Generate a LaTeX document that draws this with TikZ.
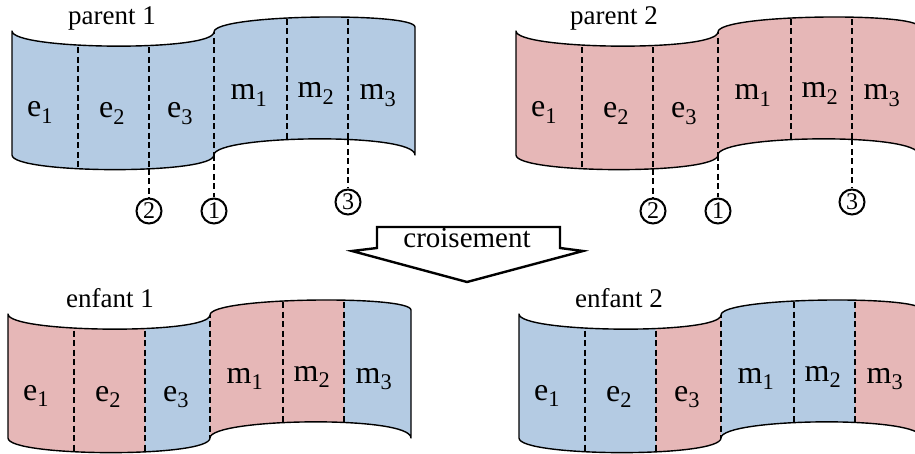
\documentclass[tikz,border=0pt]{standalone}
\usepackage{fontspec}
\setmainfont{Liberation Serif}
\usepackage{tikz}
\definecolor{geneblue}{RGB}{180,203,227}
\definecolor{genepink}{RGB}{230,183,183}
\newcommand{\ribbonshape}{(12,31) .. controls (12,50) and (214,52) .. (214,32) .. controls (214,14) and (415,12) .. (415,27) -- (415,155) .. controls (415,132) and (214,135) .. (214,155) .. controls (214,175) and (12,174) .. (12,155) -- cycle}
\newcommand{\ribbon}[8]{%
    \begin{scope}[shift={#2}]
        \foreach \xa/\xb/\col in {12/78/#3, 78/149/#4, 149/214/#5, 214/287/#6, 287/348/#7, 348/420/#8} {
            \begin{scope}
                \clip (\xa,0) rectangle (\xb,200);
                \fill[\col] \ribbonshape;
            \end{scope}
        }
        \begin{scope}
            \clip \ribbonshape;
            \foreach \x in {78,149,214,287,348} \draw[divider] (\x,0) -- (\x,200);
        \end{scope}
        \draw[edge] \ribbonshape;
        \node[gene] (#1e1) at (40,117) {e\textsubscript{1}};
        \node[gene] (#1e2) at (112,118) {e\textsubscript{2}};
        \node[gene] (#1e3) at (180,118) {e\textsubscript{3}};
        \node[gene] (#1m1) at (249,100) {m\textsubscript{1}};
        \node[gene] (#1m2) at (316,98) {m\textsubscript{2}};
        \node[gene] (#1m3) at (378,100) {m\textsubscript{3}};
    \end{scope}}

\begin{document}
\begin{tikzpicture}[x=1pt, y=-1pt, edge/.style = {line width=1.4pt, line join=round}, divider/.style = {line width=1.1pt, dash pattern=on 6pt off 3.5pt}, gene/.style = {anchor=base, inner sep=0pt, font=\fontsize{32}{36}\selectfont}, title/.style = {anchor=base, inner sep=0pt, font=\fontsize{27}{30}\selectfont}, num/.style = {draw, circle, line width=2pt, inner sep=0pt, minimum size=25pt, fill=white, font=\fontsize{24}{24}\selectfont}, blockarrow/.style = {draw, line width=2.4pt, fill=white, line join=miter}]
    \useasboundingbox (0,0) rectangle (915,454);
    \ribbon{pa}{(0,0)}{geneblue}{geneblue}{geneblue}{geneblue}{geneblue}{geneblue}
    \ribbon{pb}{(504,0)}{genepink}{genepink}{genepink}{genepink}{genepink}{genepink}
    \ribbon{ea}{(-4,283)}{genepink}{genepink}{geneblue}{genepink}{genepink}{geneblue}
    \ribbon{eb}{(507,283)}{geneblue}{geneblue}{genepink}{geneblue}{geneblue}{genepink}
    \node[title] (tpa) at (112,25) {parent 1};
    \node[title] (tpb) at (614,25) {parent 2};
    \node[title] (tea) at (110,307) {enfant 1};
    \node[title] (teb) at (619,307) {enfant 2};
    \coordinate (pas2) at (149,168.8);
    \coordinate (pas1) at (214,155);
    \coordinate (pas3) at (348,139.5);
    \coordinate (pbs2) at (653,168.8);
    \coordinate (pbs1) at (718,155);
    \coordinate (pbs3) at (852,139.5);
    \node[num] (pac2) at (149,211) {2};
    \node[num] (pac1) at (214,211) {1};
    \node[num] (pac3) at (348,202) {3};
    \node[num] (pbc2) at (653,211) {2};
    \node[num] (pbc1) at (718,211) {1};
    \node[num] (pbc3) at (852,202) {3};
    \draw[divider] (pas2) -- (pac2);
    \draw[divider] (pas1) -- (pac1);
    \draw[divider] (pas3) -- (pac3);
    \draw[divider] (pbs2) -- (pbc2);
    \draw[divider] (pbs1) -- (pbc1);
    \draw[divider] (pbs3) -- (pbc3);
    \coordinate (ar1) at (377,227);
    \coordinate (ar2) at (560,227);
    \coordinate (ar3) at (560,248);
    \coordinate (ar4) at (583,251);
    \coordinate (ar5) at (467,282);
    \coordinate (ar6) at (352,251);
    \coordinate (ar7) at (377,248);
    \draw[blockarrow] (ar1) -- (ar2) -- (ar3) -- (ar4) -- (ar5) -- (ar6) -- (ar7) -- cycle;
    \node[anchor=base, inner sep=0pt, font=\fontsize{29}{32}\selectfont] (cross) at (467,248) {croisement};
\end{tikzpicture}
\end{document}
